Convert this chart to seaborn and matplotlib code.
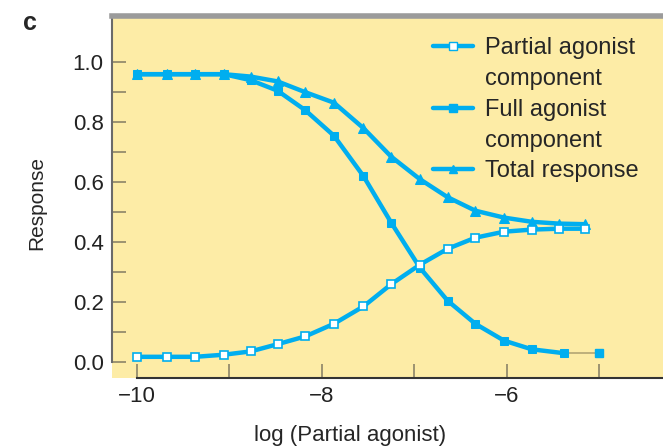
import numpy as np
import pandas as pd
import matplotlib.pyplot as plt
import seaborn as sns
from matplotlib.lines import Line2D

# log concentration of partial agonist
x_partial = [-10.0, -9.68, -9.37, -9.06, -8.77, -8.48, -8.18, -7.87, -7.55,
             -7.25, -6.94, -6.64, -6.34, -6.03, -5.73, -5.44, -5.15]
partial = [0.018, 0.018, 0.018, 0.025, 0.036, 0.060, 0.086, 0.128, 0.186,
           0.260, 0.325, 0.378, 0.415, 0.435, 0.442, 0.445, 0.445]

x_full = [-10.0, -9.68, -9.37, -9.06, -8.77, -8.48, -8.18, -7.87, -7.55,
          -7.25, -6.94, -6.64, -6.34, -6.03, -5.73, -5.38, -5.0]
full = [0.96, 0.96, 0.96, 0.96, 0.94, 0.905, 0.84, 0.755, 0.62,
        0.465, 0.315, 0.205, 0.128, 0.072, 0.043, 0.030, 0.030]

x_total = [-10.0, -9.68, -9.37, -9.06, -8.77, -8.48, -8.18, -7.87, -7.55,
           -7.25, -6.94, -6.64, -6.34, -6.03, -5.73, -5.44, -5.15]
total = [0.96, 0.96, 0.96, 0.96, 0.952, 0.936, 0.90, 0.865, 0.78,
         0.685, 0.61, 0.55, 0.505, 0.482, 0.468, 0.462, 0.46]

legend_labels = ['Partial agonist', 'component', 'Full agonist', 'component', 'Total response']
x_ticks = [-10, -8, -6]
x_ticklabels = ['\u221210', '\u22128', '\u22126']
y_ticks = [0.0, 0.2, 0.4, 0.6, 0.8, 1.0]
y_ticklabels = ['0.0', '0.2', '0.4', '0.6', '0.8', '1.0']

blue = '#00aeef'
yellow = '#fdeca6'

sns.set_style('ticks')
plt.rcParams['font.family'] = ['Liberation Sans', 'DejaVu Sans']

fig = plt.figure(figsize=(6.63, 4.48), dpi=100)
ax = fig.add_axes([0.169, 0.156, 0.831, 0.809])
ax.set_facecolor(yellow)

# full agonist component (last point hangs off a thin grey connector)
sns.lineplot(x=x_full[:-1], y=full[:-1], ax=ax, color=blue, lw=3.2, marker='s', ms=6,
             mfc=blue, mec=blue, sort=False, estimator=None, zorder=3)
ax.plot(x_full[-2:], full[-2:], color='#b9ab78', lw=1.3, zorder=2)
ax.plot(x_full[-1:], full[-1:], 's', color=blue, ms=6, zorder=3)

# total response
sns.lineplot(x=x_total, y=total, ax=ax, color=blue, lw=3.2, marker='^', ms=6.5,
             mfc=blue, mec=blue, sort=False, estimator=None, zorder=3)

# partial agonist component
sns.lineplot(x=x_partial, y=partial, ax=ax, color=blue, lw=3.2, marker='s', ms=6,
             mfc='white', mec=blue, mew=1.2, sort=False, estimator=None, zorder=4)

ax.set_xlim(-10.27, -4.31)
ax.set_ylim(-0.053, 1.155)

ax.set_xticks(x_ticks)
ax.set_xticklabels(x_ticklabels)
ax.set_xticks([-9, -7, -5], minor=True)
ax.set_yticks(y_ticks)
ax.set_yticklabels(y_ticklabels)
ax.set_yticks([0.1, 0.3, 0.5, 0.7, 0.9], minor=True)
ax.tick_params(which='both', direction='in', length=10, width=1.2, color='#8c8468',
               labelsize=16, pad=6, labelcolor='#222222')

ax.spines['right'].set_visible(False)
ax.spines['top'].set_color('#9b9b9b')
ax.spines['top'].set_linewidth(4)
ax.spines['left'].set_bounds(0, 1.155)
ax.spines['left'].set_color('#6a6a6a')
ax.spines['left'].set_linewidth(1.5)
ax.spines['bottom'].set_bounds(-10, -4.31)
ax.spines['bottom'].set_color('#333333')
ax.spines['bottom'].set_linewidth(1.5)

# legend with handles on the first line of each label
empty = Line2D([], [], color='none')
handles = [
    Line2D([], [], color=blue, lw=3.2, marker='s', ms=5.5, mfc='white', mec=blue),
    empty,
    Line2D([], [], color=blue, lw=3.2, marker='s', ms=5.5, mfc=blue, mec=blue),
    empty,
    Line2D([], [], color=blue, lw=3.2, marker='^', ms=6, mfc=blue, mec=blue),
]
ax.legend(handles, legend_labels, loc='upper left', bbox_to_anchor=(0.583, 0.94),
          frameon=False, fontsize=17, handlelength=1.7, handletextpad=0.5,
          labelspacing=0.37, borderpad=0, borderaxespad=0)

fig.text(0.056, 0.547, 'Response', rotation=90, ha='center', va='center', fontsize=15)
fig.text(0.528, 0.029, 'log (Partial agonist)', ha='center', va='center', fontsize=16)
fig.text(0.035, 0.949, 'c', ha='left', va='center', fontsize=18, fontweight='bold')

fig.savefig('out.png', dpi=100)
